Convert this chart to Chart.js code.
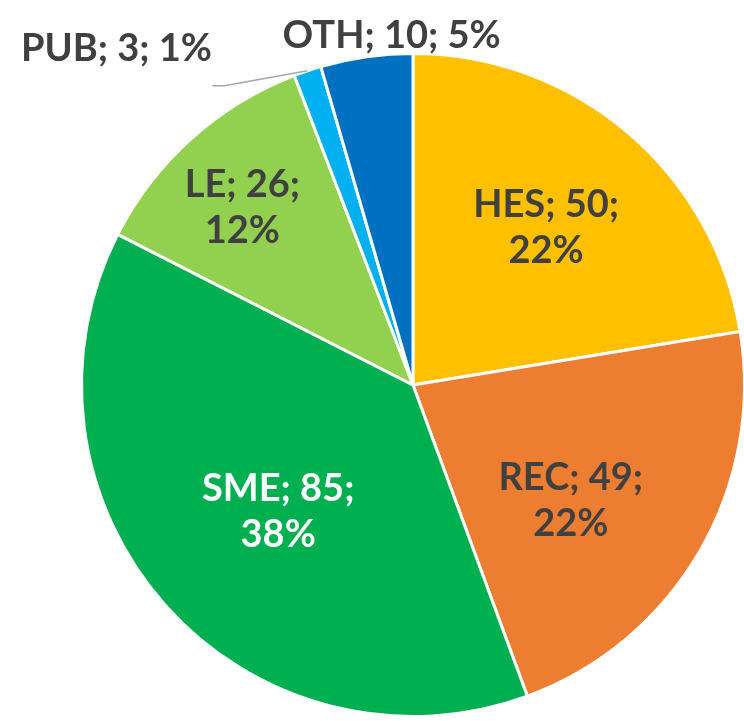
<!DOCTYPE html>
<html>
<head>
<meta charset="utf-8">
<script src="https://cdn.jsdelivr.net/npm/chart.js@4"></script>
<style>
  html, body { margin: 0; padding: 0; background: #fff; overflow: hidden; }
  #wrap { position: absolute; left: 0; top: 0; width: 760px; height: 721px; }
</style>
</head>
<body>
<div id="wrap"><canvas id="pieChart" width="760" height="721"></canvas></div>
<script>
var ctx = document.getElementById('pieChart').getContext('2d');

// Data
var categories = ['HES', 'REC', 'SME', 'LE', 'PUB', 'OTH'];
var counts = [50, 49, 85, 26, 3, 10];
var percents = ['22%', '22%', '38%', '12%', '1%', '5%'];
var colors = ['#FFC000', '#ED7D31', '#00B050', '#92D050', '#00B0F0', '#0070C0'];

// where each label sits: fraction of radius + nudge, and line layout
var labelPlace = [
  { f: 0.62, dx: 0, dy: -1, split: true, color: '#404040' },
  { f: 0.60, dx: -14, dy: 15, split: true, color: '#404040' },
  { f: 0.60, dx: 14, dy: -5, split: true, color: '#ffffff' },
  { f: 0.72, dx: -11, dy: 0, split: true, color: '#404040' },
  { f: 1.0, dx: -191, dy: -22, split: false, color: '#404040', leader: true },
  { f: 1.06, dx: 28, dy: -1, split: false, color: '#404040' }
];

// Draw the Excel style data labels
var pieLabels = {
  id: 'pieLabels',
  afterDatasetsDraw: function(chart) {
    var c = chart.ctx;
    var meta = chart.getDatasetMeta(0);
    c.save();
    c.font = 'bold 38px Lato, "Open Sans", sans-serif';
    c.textAlign = 'center';
    c.textBaseline = 'middle';
    meta.data.forEach(function(arc, i) {
      var p = arc.getProps(['x', 'y', 'startAngle', 'endAngle', 'outerRadius'], true);
      var mid = (p.startAngle + p.endAngle) / 2;
      var pl = labelPlace[i];
      var ex = p.x + Math.cos(mid) * p.outerRadius * pl.f;
      var ey = p.y + Math.sin(mid) * p.outerRadius * pl.f;
      var lx = ex + pl.dx;
      var ly = ey + pl.dy;
      if (pl.leader) {
        c.strokeStyle = '#A6A6A6';
        c.lineWidth = 1.5;
        c.beginPath();
        c.moveTo(ex, ey);
        c.lineTo(ex - 83, ey + 15);
        c.lineTo(ex - 95, ey + 15);
        c.stroke();
      }
      c.fillStyle = pl.color;
      if (pl.split) {
        c.fillText(categories[i] + '; ' + counts[i] + ';', lx, ly - 23);
        c.fillText(percents[i], lx, ly + 23);
      } else {
        c.fillText(categories[i] + '; ' + counts[i] + '; ' + percents[i], lx, ly);
      }
    });
    c.restore();
  }
};

var pieChart = new Chart(ctx, {
  type: 'pie',
  data: {
    labels: categories,
    datasets: [{
      data: counts,
      backgroundColor: colors,
      borderColor: '#ffffff',
      borderWidth: 3
    }]
  },
  options: {
    responsive: false,
    animation: false,
    devicePixelRatio: 1,
    layout: { padding: { left: 80, right: 14, top: 52, bottom: 3 } },
    plugins: {
      legend: { display: false },
      tooltip: { enabled: false }
    }
  },
  plugins: [pieLabels]
});
</script>
</body>
</html>
